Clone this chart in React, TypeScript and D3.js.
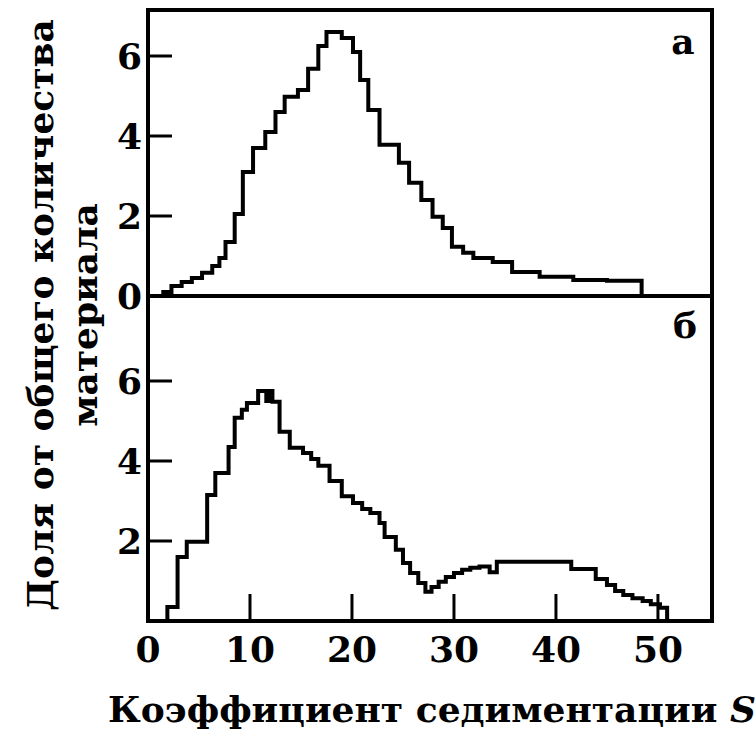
import React from "react";
import * as d3 from "d3";

// Panel "а": step left edges (S) and values (% of total material)
const aS = [0.8, 1.5, 2.3, 3.3, 4.3, 5.3, 6.3, 7.0, 7.6, 8.5, 9.3, 10.3, 11.5, 12.5, 13.4, 14.7, 15.7, 16.7, 17.5, 19.0, 20.1, 20.8, 21.6, 22.7, 24.6, 25.6, 26.8, 27.9, 28.9, 29.8, 30.9, 31.9, 33.8, 35.7, 38.4, 41.7, 45.0, 48.4];
const aV = [0, 0.1, 0.25, 0.35, 0.45, 0.58, 0.75, 0.95, 1.35, 2.05, 3.1, 3.7, 4.1, 4.6, 4.98, 5.15, 5.68, 6.25, 6.6, 6.45, 6.1, 5.4, 4.65, 3.78, 3.33, 2.83, 2.4, 1.98, 1.7, 1.23, 1.08, 0.95, 0.85, 0.6, 0.48, 0.4, 0.38, 0];

// Panel "б"
const bS = [1.2, 1.9, 2.9, 3.8, 5.8, 6.6, 7.9, 8.5, 9.2, 9.7, 10.8, 11.6, 11.9, 12.2, 12.9, 13.9, 15.2, 16.0, 16.7, 17.8, 19.0, 20.1, 21.0, 21.8, 22.7, 23.2, 24.3, 25.0, 25.7, 26.5, 27.2, 27.8, 28.5, 29.2, 30.0, 30.8, 31.6, 32.5, 33.5, 34.2, 41.5, 43.9, 45.0, 45.8, 46.6, 47.5, 48.5, 49.3, 50.2, 50.9];
const bV = [0, 0.35, 1.6, 1.98, 3.15, 3.7, 4.35, 5.08, 5.28, 5.45, 5.75, 5.5, 5.75, 5.48, 4.73, 4.33, 4.2, 4.05, 3.88, 3.5, 3.12, 2.95, 2.8, 2.7, 2.45, 2.1, 1.78, 1.45, 1.2, 0.95, 0.73, 0.85, 0.98, 1.1, 1.2, 1.28, 1.33, 1.36, 1.22, 1.48, 1.3, 1.05, 0.9, 0.75, 0.65, 0.57, 0.5, 0.42, 0.33, 0];

const xTicks = [0, 10, 20, 30, 40, 50];
const aTicks = [0, 2, 4, 6];
const bTicks = [2, 4, 6];
const panelLabels = ["а", "б"];
const yTitle1 = "Доля от общего количества";
const yTitle2 = "материала";
const xTitle = "Коэффициент седиментации ";
const xTitleVar = "S";

const W = 755;
const H = 733;
const L = 148;
const R = 712;
const TOP = 10;
const MID = 296;
const BOT = 621;

const x = d3.scaleLinear().domain([0, 55.3]).range([L, R]);
const yA = d3.scaleLinear().domain([0, 7.15]).range([MID, TOP]);
const yB = d3.scaleLinear().domain([0, 8.125]).range([BOT, MID]);

const FONT = "'DejaVu Serif', serif";

function stepPath(s: number[], v: number[], y: d3.ScaleLinear<number, number>) {
  const pts = s.map((d, i) => [d, v[i]] as [number, number]);
  const line = d3
    .line<[number, number]>()
    .x((d) => x(d[0]))
    .y((d) => y(d[1]))
    .curve(d3.curveStepAfter);
  return line(pts) || "";
}

export default function App() {
  const fs = 36;
  return (
    <svg
      width={W}
      height={H}
      viewBox={`0 0 ${W} ${H}`}
      style={{ position: "absolute", left: 0, top: 0, background: "#fff" }}
    >
      <rect x={0} y={0} width={W} height={H} fill="#fff" />
      {/* curves */}
      <path d={stepPath(aS, aV, yA)} fill="none" stroke="#000" strokeWidth={4} strokeLinejoin="miter" />
      <path d={stepPath(bS, bV, yB)} fill="none" stroke="#000" strokeWidth={4} strokeLinejoin="miter" />

      {/* frame */}
      <rect x={L} y={TOP} width={R - L} height={BOT - TOP} fill="none" stroke="#000" strokeWidth={4} />
      <line x1={L} x2={R} y1={MID} y2={MID} stroke="#000" strokeWidth={4} />

      {/* y ticks panel a */}
      {aTicks.map((t) => (
        <g key={"a" + t}>
          {t > 0 && <line x1={L} x2={L + 24} y1={yA(t)} y2={yA(t)} stroke="#000" strokeWidth={3} />}
          <text x={L - 6} y={yA(t) + 13} textAnchor="end" fontFamily={FONT} fontSize={fs} fontWeight="bold">
            {t}
          </text>
        </g>
      ))}
      {/* y ticks panel b */}
      {bTicks.map((t) => (
        <g key={"b" + t}>
          <line x1={L} x2={L + 24} y1={yB(t)} y2={yB(t)} stroke="#000" strokeWidth={3} />
          <text x={L - 6} y={yB(t) + 13} textAnchor="end" fontFamily={FONT} fontSize={fs} fontWeight="bold">
            {t}
          </text>
        </g>
      ))}
      {/* x ticks */}
      {xTicks.map((t) => (
        <g key={"x" + t}>
          {t > 0 && <line x1={x(t)} x2={x(t)} y1={BOT} y2={BOT - 27} stroke="#000" strokeWidth={3} />}
          <text x={x(t)} y={662} textAnchor="middle" fontFamily={FONT} fontSize={fs} fontWeight="bold">
            {t}
          </text>
        </g>
      ))}

      {/* panel labels */}
      <text x={683} y={54} textAnchor="middle" fontFamily={FONT} fontSize={fs} fontWeight="bold">
        {panelLabels[0]}
      </text>
      <text x={685} y={338} textAnchor="middle" fontFamily={FONT} fontSize={fs} fontWeight="bold">
        {panelLabels[1]}
      </text>

      {/* y title */}
      <text
        transform="translate(53,315) rotate(-90)"
        textAnchor="middle"
        fontFamily={FONT}
        fontSize={fs}
        fontWeight="bold"
      >
        {yTitle1}
      </text>
      <text
        transform="translate(97,315) rotate(-90)"
        textAnchor="middle"
        fontFamily={FONT}
        fontSize={fs}
        fontWeight="bold"
      >
        {yTitle2}
      </text>

      {/* x title */}
      <text x={108} y={722} fontFamily={FONT} fontSize={fs} fontWeight="bold">
        {xTitle}
        <tspan fontStyle="italic">{xTitleVar}</tspan>
      </text>
    </svg>
  );
}
